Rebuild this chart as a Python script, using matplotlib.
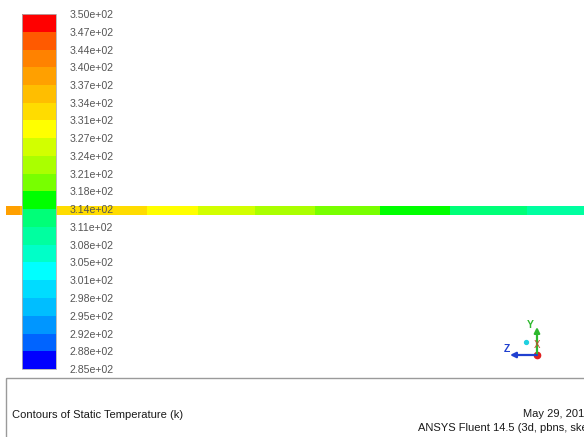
import numpy as np
import matplotlib
matplotlib.use("Agg")
import matplotlib.pyplot as plt
from matplotlib.patches import Rectangle

plt.rcParams['font.family'] = ['Liberation Sans', 'DejaVu Sans']

# colour scale of the contour plot (K)
t_min = 285.0
t_max = 350.0
n_bands = 20
tick_labels = ["2.85e+02", "2.88e+02", "2.92e+02", "2.95e+02", "2.98e+02",
               "3.01e+02", "3.05e+02", "3.08e+02", "3.11e+02", "3.14e+02",
               "3.18e+02", "3.21e+02", "3.24e+02", "3.27e+02", "3.31e+02",
               "3.34e+02", "3.37e+02", "3.40e+02", "3.44e+02", "3.47e+02",
               "3.50e+02"]
# fluent band colours, bottom (cold) to top (hot)
band_colors = ["#0000ff", "#0064ff", "#0096ff", "#00beff", "#00dcff",
               "#00ffff", "#00ffc8", "#00ffa0", "#00ff78", "#00ff00",
               "#78ff00", "#aaff00", "#d2ff00", "#ffff00", "#ffdc00",
               "#ffbe00", "#ffa000", "#ff8200", "#ff5a00", "#ff0000"]

# static temperature along the pipe (visible stretch)
pipe_pos_mm = [0, 24, 59, 244, 332, 431, 535, 647, 768, 901, 1000]
pipe_temp_k = [338.6, 337.0, 333.75, 330.5, 327.25, 324.0, 320.75, 317.5,
               314.25, 311.0, 309.2]

W, H = 584, 437
fig = plt.figure(figsize=(W / 100, H / 100), dpi=100)

# overlay in pixel coords for the frame, texts and axis triad
ov = fig.add_axes([0, 0, 1, 1])
ov.set_xlim(0, W)
ov.set_ylim(H, 0)
ov.axis('off')

ov.add_patch(Rectangle((6, 378), W + 20, 100, fill=False,
                       edgecolor='#9a9a9a', linewidth=1.0, clip_on=False))
ov.text(12, 415, "Contours of Static Temperature (k)", fontsize=8.0,
        va='center', ha='left', color='#1a1a1a')
ov.text(590, 414, "May 29, 2019", fontsize=8.0, va='center', ha='right',
        color='#1a1a1a')
ov.text(591, 428, "ANSYS Fluent 14.5 (3d, pbns, ske)", fontsize=8.0,
        va='center', ha='right', color='#1a1a1a')

# triad
ox, oy = 537, 355
ov.annotate("", xy=(ox, 327), xytext=(ox, oy),
            arrowprops=dict(arrowstyle='-|>', color='#2db82d', lw=1.6,
                            mutation_scale=8, shrinkA=0, shrinkB=0))
ov.annotate("", xy=(510, oy), xytext=(ox, oy),
            arrowprops=dict(arrowstyle='-|>', color='#2040d0', lw=1.6,
                            mutation_scale=8, shrinkA=0, shrinkB=0))
ov.text(ox, 345, "X", fontsize=7, color='#c84a2a', ha='center', va='center')
ov.text(530, 325, "Y", fontsize=7.5, color='#2db82d', ha='center', va='center',
        fontweight='bold')
ov.text(507, 349, "Z", fontsize=7.5, color='#2040d0', ha='center', va='center',
        fontweight='bold')
ov.plot([526], [342], 'o', color='#20d0e0', markersize=2.8)
ov.plot([ox], [oy], 'o', color='#e02020', markersize=4.5)

# pipe strip
levels = np.linspace(t_min, t_max, n_bands + 1)
ax = fig.add_axes([6 / W, 1 - 215 / H, (W - 6) / W, 9 / H])
temps = np.array(pipe_temp_k)
cs = ax.contourf(pipe_pos_mm, [0, 1], np.vstack([temps, temps]),
                 levels=levels, colors=band_colors)
ax.set_xlim(0, 1000)
ax.set_ylim(0, 1)
ax.axis('off')

# colour bar
cax = fig.add_axes([22 / W, 1 - 369 / H, 34 / W, 355 / H])
cb = fig.colorbar(cs, cax=cax, ticks=levels)
cb.outline.set_edgecolor('#b0b0b0')
cb.outline.set_linewidth(0.6)
cax.set_yticklabels(tick_labels)
cax.tick_params(length=0, pad=10, labelsize=7.6, labelcolor='#555555')

fig.savefig("out.png", dpi=100)
